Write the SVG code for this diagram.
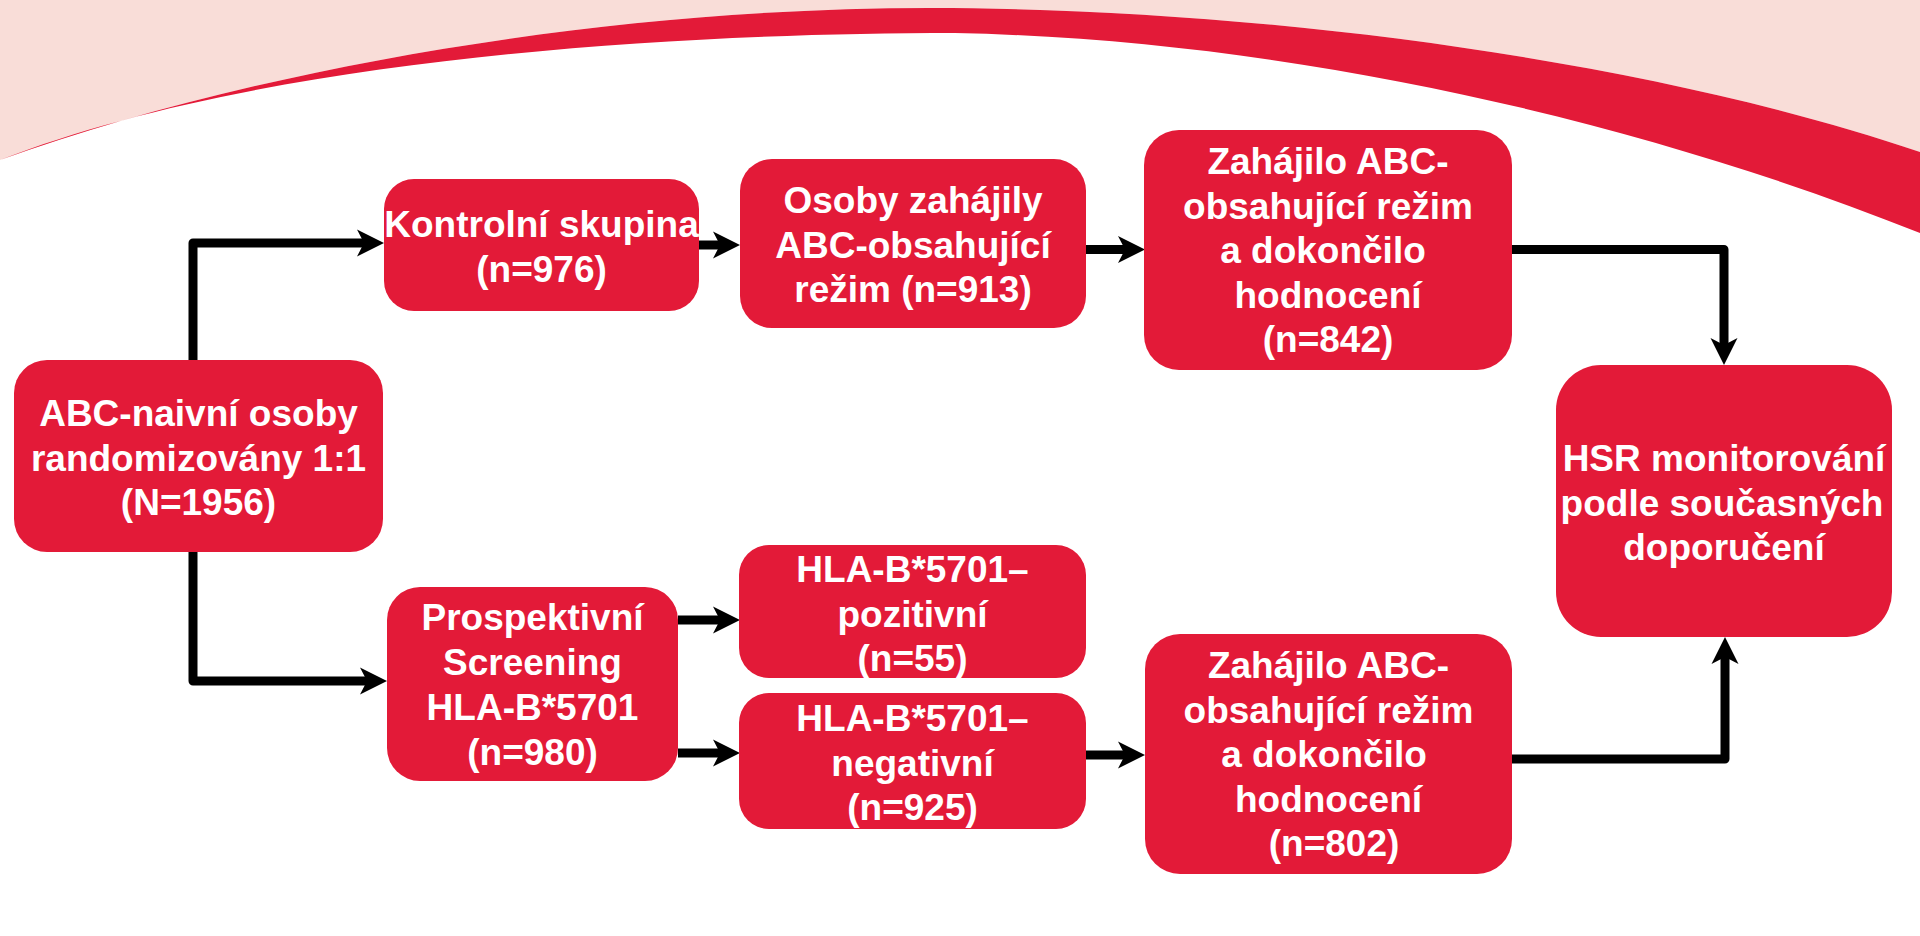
<svg xmlns="http://www.w3.org/2000/svg" width="1920" height="936" viewBox="0 0 1920 936">
<style>
.box{fill:#E31A38}
.t{font-family:"Liberation Sans",Arial,sans-serif;font-weight:bold;font-size:37px;fill:#FFFFFF;text-anchor:middle}
.c{fill:none;stroke:#000000;stroke-width:9;stroke-linejoin:round}
</style>
<defs>
<marker id="ah" markerUnits="userSpaceOnUse" viewBox="0 0 27 27" refX="9" refY="13.5" markerWidth="27" markerHeight="27" orient="auto" overflow="visible">
<path d="M27,13.5 L0,0 L7,13.5 L0,27 Z" fill="#000000"/>
</marker>
</defs>
<rect x="0" y="0" width="1920" height="936" fill="#FFFFFF"/>
<g id="background">
<path d="M0,0 H1920 V152 C1650,60 1260,8 930,8 C600,8 250,70 0,160 Z" fill="#F9DDD8"/>
<path d="M0,160 C250,70 600,8 930,8 C1260,8 1650,60 1920,152 L1920,233 C1650,125 1300,40 955,33 C650,33 250,62 0,160 Z" fill="#E31A38"/>
</g>
<g id="connectors">
<path class="c" d="M193,360 V243 H366" marker-end="url(#ah)"/>
<path class="c" d="M193,552 V681 H369" marker-end="url(#ah)"/>
<path class="c" d="M699,245 H722" marker-end="url(#ah)"/>
<path class="c" d="M1086,249.5 H1127" marker-end="url(#ah)"/>
<path class="c" d="M1512,249.5 H1724 V347" marker-end="url(#ah)"/>
<path class="c" d="M678,620 H722" marker-end="url(#ah)"/>
<path class="c" d="M678,753 H722" marker-end="url(#ah)"/>
<path class="c" d="M1086,755 H1127" marker-end="url(#ah)"/>
<path class="c" d="M1512,759 H1725 V655" marker-end="url(#ah)"/>
</g>
<g id="n-abc-naivni">
<rect class="box" x="14" y="360" width="369" height="192" rx="33"/>
<text class="t"><tspan x="198.5" y="426">ABC-naivní osoby</tspan><tspan x="198.5" y="470.5">randomizovány 1:1</tspan><tspan x="198.5" y="515">(N=1956)</tspan></text>
</g>
<g id="n-kontrolni">
<rect class="box" x="384" y="179" width="315" height="132" rx="30"/>
<text class="t"><tspan x="541.5" y="237">Kontrolní skupina</tspan><tspan x="541.5" y="281.5">(n=976)</tspan></text>
</g>
<g id="n-osoby">
<rect class="box" x="740" y="159" width="346" height="169" rx="32"/>
<text class="t"><tspan x="913" y="213">Osoby zahájily</tspan><tspan x="913" y="257.5">ABC-obsahující</tspan><tspan x="913" y="302">režim (n=913)</tspan></text>
</g>
<g id="n-zahajilo-842">
<rect class="box" x="1144" y="130" width="368" height="240" rx="35"/>
<text class="t"><tspan x="1328" y="174">Zahájilo ABC-</tspan><tspan x="1328" y="218.5">obsahující režim</tspan><tspan x="1323" y="263">a dokončilo</tspan><tspan x="1328" y="307.5">hodnocení</tspan><tspan x="1328" y="352">(n=842)</tspan></text>
</g>
<g id="n-hsr">
<rect class="box" x="1556" y="365" width="336" height="272" rx="45"/>
<text class="t"><tspan x="1724" y="471">HSR monitorování</tspan><tspan x="1722" y="516">podle současných</tspan><tspan x="1724" y="560">doporučení</tspan></text>
</g>
<g id="n-prospektivni">
<rect class="box" x="387" y="587" width="291" height="194" rx="33"/>
<text class="t"><tspan x="532.5" y="630">Prospektivní</tspan><tspan x="532.5" y="675">Screening</tspan><tspan x="532.5" y="720">HLA-B*5701</tspan><tspan x="532.5" y="765">(n=980)</tspan></text>
</g>
<g id="n-pozitivni">
<rect class="box" x="739" y="545" width="347" height="133" rx="30"/>
<text class="t"><tspan x="912.5" y="582">HLA-B*5701–</tspan><tspan x="912.5" y="626.5">pozitivní</tspan><tspan x="912.5" y="671">(n=55)</tspan></text>
</g>
<g id="n-negativni">
<rect class="box" x="739" y="693" width="347" height="136" rx="30"/>
<text class="t"><tspan x="912.5" y="731">HLA-B*5701–</tspan><tspan x="912.5" y="775.5">negativní</tspan><tspan x="912.5" y="820">(n=925)</tspan></text>
</g>
<g id="n-zahajilo-802">
<rect class="box" x="1145" y="634" width="367" height="240" rx="35"/>
<text class="t"><tspan x="1328.5" y="678">Zahájilo ABC-</tspan><tspan x="1328.5" y="722.5">obsahující režim</tspan><tspan x="1324" y="767">a dokončilo</tspan><tspan x="1328.5" y="811.5">hodnocení</tspan><tspan x="1334" y="856">(n=802)</tspan></text>
</g>
</svg>
